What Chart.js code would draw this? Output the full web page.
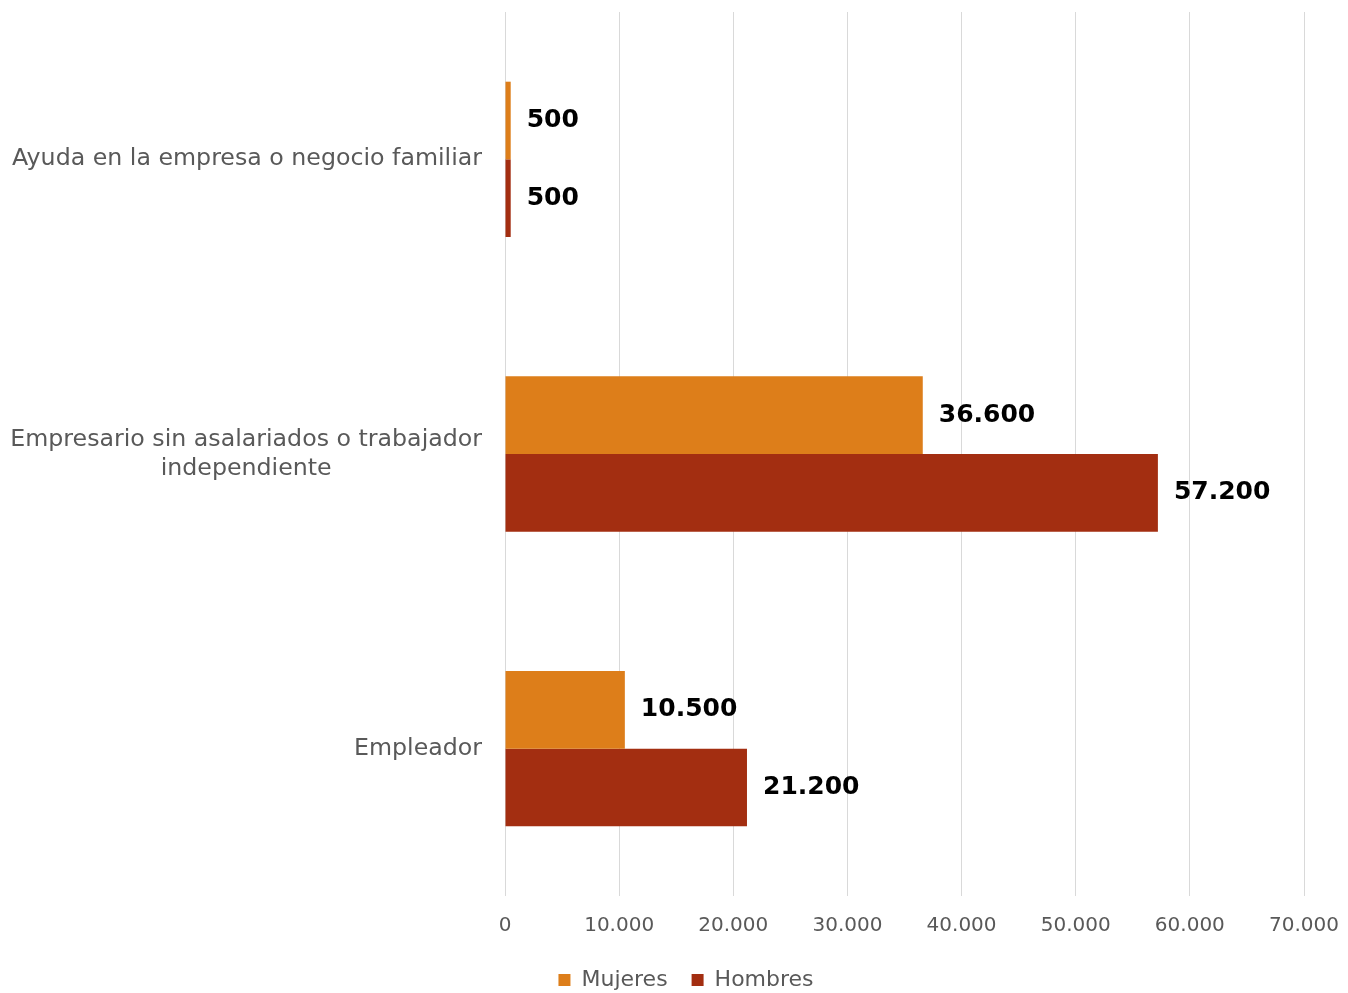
<!DOCTYPE html>
<html>
<head>
<meta charset="utf-8">
<script src="https://cdn.jsdelivr.net/npm/chart.js@4.4.1/dist/chart.umd.min.js"></script>
<style>
  html, body { margin: 0; padding: 0; background: #ffffff; }
  #wrap { width: 1348px; height: 993px; position: relative; }
</style>
</head>
<body>
<div id="wrap"><canvas id="c" width="1348" height="993"></canvas></div>
<script>
const categories = [
  ["Ayuda en la empresa o negocio familiar"],
  ["Empresario sin asalariados o trabajador", "independiente"],
  ["Empleador"]
];
const seriesNames = ["Mujeres", "Hombres"];
const mujeres = [500, 36600, 10500];
const hombres = [500, 57200, 21200];
const xTicks = [0, 10000, 20000, 30000, 40000, 50000, 60000, 70000];

const colMujeres = "#DD7E1A";
const colHombres = "#A32E11";
const textGrey = "#595959";
const FONT = "'DejaVu Sans', sans-serif";

function fmt(v) {
  return String(v).replace(/\B(?=(\d{3})+(?!\d))/g, ".");
}

const labelPlugin = {
  id: "customLabels",
  afterLayout(chart) {
    if (chart.legend) { chart.legend.left += 34; chart.legend.right += 34; }
  },
  afterDatasetsDraw(chart) {
    const ctx = chart.ctx;
    ctx.save();
    // data labels
    ctx.font = "bold 25px " + FONT;
    ctx.fillStyle = "#000000";
    ctx.textAlign = "left";
    ctx.textBaseline = "middle";
    chart.data.datasets.forEach((ds, di) => {
      const meta = chart.getDatasetMeta(di);
      meta.data.forEach((bar, i) => {
        ctx.fillText(fmt(ds.data[i]), bar.x + 16, bar.y);
      });
    });
    // category labels (wrapped lines centered, block right-aligned)
    const ys = chart.scales.y;
    ctx.font = "23.7px " + FONT;
    ctx.fillStyle = textGrey;
    ctx.textAlign = "center";
    const rightEdge = chart.chartArea.left - 23;
    const lineH = 29;
    chart.data.labels.forEach((lines, i) => {
      const y = ys.getPixelForValue(i);
      let maxW = 0;
      lines.forEach(l => { maxW = Math.max(maxW, ctx.measureText(l).width); });
      const cx = rightEdge - maxW / 2;
      const y0 = y - (lines.length - 1) * lineH / 2;
      lines.forEach((l, k) => ctx.fillText(l, cx, y0 + k * lineH));
    });
    ctx.restore();
  }
};

new Chart(document.getElementById("c"), {
  type: "bar",
  data: {
    labels: categories,
    datasets: [
      { label: seriesNames[0], data: mujeres, backgroundColor: colMujeres },
      { label: seriesNames[1], data: hombres, backgroundColor: colHombres }
    ]
  },
  options: {
    indexAxis: "y",
    responsive: false,
    animation: false,
    layout: { padding: { left: 0, right: 44, top: 12, bottom: -8 } },
    datasets: { bar: { categoryPercentage: 0.527, barPercentage: 1.0 } },
    scales: {
      x: {
        min: 0, max: 70000,
        afterBuildTicks(scale) { scale.ticks = xTicks.map(v => ({ value: v })); },
        afterFit(scale) { scale.paddingRight = 0; scale.paddingLeft = 0; scale.height = 49; },
        grid: { color: "#d9d9d9", lineWidth: 1, drawTicks: false },
        border: { display: false },
        ticks: {
          color: textGrey, font: { family: FONT, size: 20 }, padding: 18,
          callback: v => fmt(v)
        }
      },
      y: {
        grid: { display: false },
        border: { display: false },
        ticks: { display: false },
        afterFit(scale) { scale.width = 505; }
      }
    },
    plugins: {
      legend: {
        position: "bottom",
        labels: {
          color: textGrey, font: { family: FONT, size: 22 },
          boxWidth: 12, boxHeight: 12, padding: 24
        }
      },
      tooltip: { enabled: false }
    }
  },
  plugins: [labelPlugin]
});
</script>
</body>
</html>
